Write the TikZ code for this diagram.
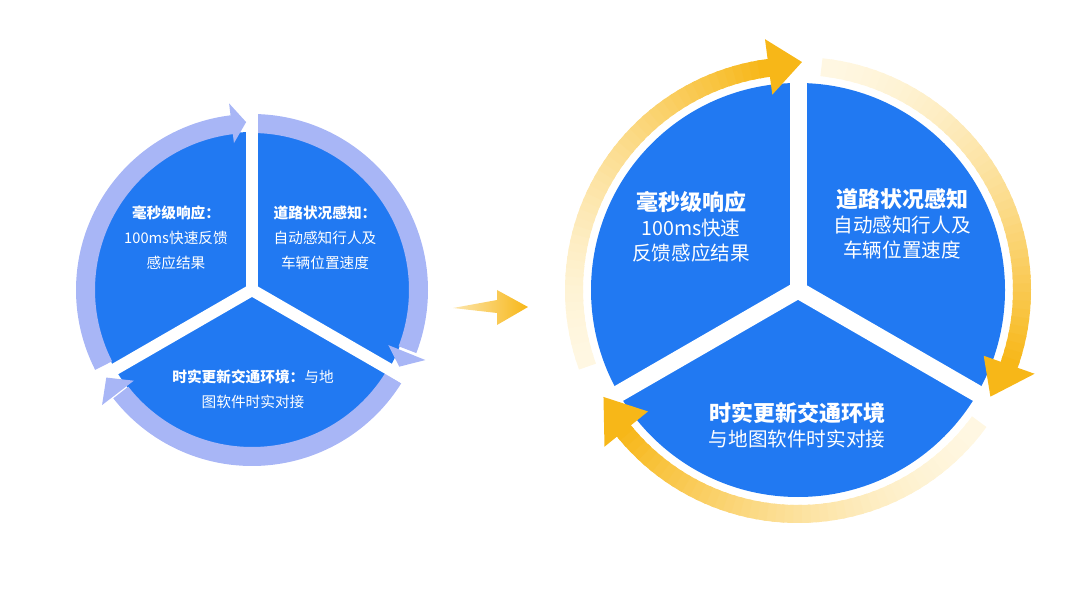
\documentclass[tikz,border=0pt]{standalone}
\usepackage{fontspec}
\newfontfamily\cjk{Noto Sans CJK SC}
\usetikzlibrary{calc}
\definecolor{pieblue}{RGB}{33,121,242}
\definecolor{ringblue}{RGB}{168,182,246}
\definecolor{ringgold}{RGB}{247,183,24}
\definecolor{ringpale}{RGB}{255,247,226}
% head of a ring arrow: centre, base angle, tip angle, inner r, outer r, tip r, colour
\newcommand\ringhead[7]{%
  \fill[#7] ($(#1)+(#2:#4)$) -- ($(#1)+(#3:#6)$) -- ($(#1)+(#2:#5)$) -- cycle;}
% light blue ring piece: start angle, end angle
\newcommand\bluearc[2]{%
  \fill[ringblue] ($(L)+(#1:157)$) arc[start angle=#1, end angle=#2, radius=157]
    -- ($(L)+(#2:176)$) arc[start angle=#2, end angle=#1, radius=176] -- cycle;}
% golden ring piece, pale at its tail: start angle, end angle
\newcommand\goldarc[2]{%
  \foreach \i in {0,...,47}{
    \pgfmathsetmacro\aa{#1+(#2-#1)*\i/48}
    \pgfmathsetmacro\ab{#1+(#2-#1)*(\i+1.4)/48}
    \pgfmathsetmacro\pc{100*(\i/47)^1.6}
    \draw[line width=13.5pt, ringgold!\pc!ringpale]
      ($(R)+(\aa:224)$) arc[start angle=\aa, end angle=\ab, radius=224];
  }}
\newcommand\bighead{\fontsize{16.5}{18.75}\selectfont\bfseries}
\tikzset{
  lefttext/.style={text=white, align=center, font=\cjk\fontsize{11}{18.75}\selectfont},
  righttext/.style={text=white, align=center, font=\cjk\fontsize{14.7}{18.75}\selectfont},
}
\begin{document}
\begin{tikzpicture}[x=0.75pt, y=0.75pt]
  \useasboundingbox (0,0) rectangle (1080,607);
  \coordinate (L) at (252,317);
  \coordinate (R) at (798,317);

  % left pie
  \fill[pieblue] (L) circle (158);
  \bluearc{207}{96}
  \bluearc{88}{-21}
  \bluearc{-32}{-142}
  \foreach \a in {90,210,330}
    \draw[white, line width=9pt] (L) -- ($(L)+(\a:180)$);
  \ringhead{L}{97}{92}{148}{188}{168}{ringblue}
  \ringhead{L}{-22}{-27.5}{147}{187}{166}{ringblue}
  \ringhead{L}{217.5}{211}{149}{189}{170}{ringblue}

  \node[lefttext] (lt1) at (176,369) {{\bfseries 毫秒级响应：}\\100ms快速反馈\\感应结果};
  \node[lefttext] (lt2) at (325,369) {{\bfseries 道路状况感知：}\\自动感知行人及\\车辆位置速度};
  \node[lefttext] (lt3) at (253,217.5) {{\bfseries 时实更新交通环境：}与地\\图软件时实对接};

  % middle arrow
  \shade[left color=ringgold!35!white, right color=ringgold]
    (453,299) -- (497,307) -- (497,317) -- (528,300) -- (497,282) -- (497,294) -- cycle;

  % right pie
  \goldarc{200}{98}
  \goldarc{84}{-20}
  \goldarc{-36}{-142}
  \fill[pieblue] (R) circle (207);
  \foreach \a in {90,210,330}
    \draw[white, line width=12.75pt] (R) -- ($(R)+(\a:210)$);
  \ringhead{R}{97.5}{89}{197}{253}{228}{ringgold}
  \ringhead{R}{-19.5}{-29}{197}{251}{220}{ringgold}
  \ringhead{R}{219}{208.8}{193}{249}{222}{ringgold}

  \node[righttext] (rt1) at (691,380) {{\bighead 毫秒级响应}\\100ms快速\\反馈感应结果};
  \node[righttext] (rt2) at (902,383) {{\bighead 道路状况感知}\\自动感知行人及\\车辆位置速度};
  \node[righttext] (rt3) at (797,181.5) {{\bighead 时实更新交通环境}\\与地图软件时实对接};
\end{tikzpicture}
\end{document}
